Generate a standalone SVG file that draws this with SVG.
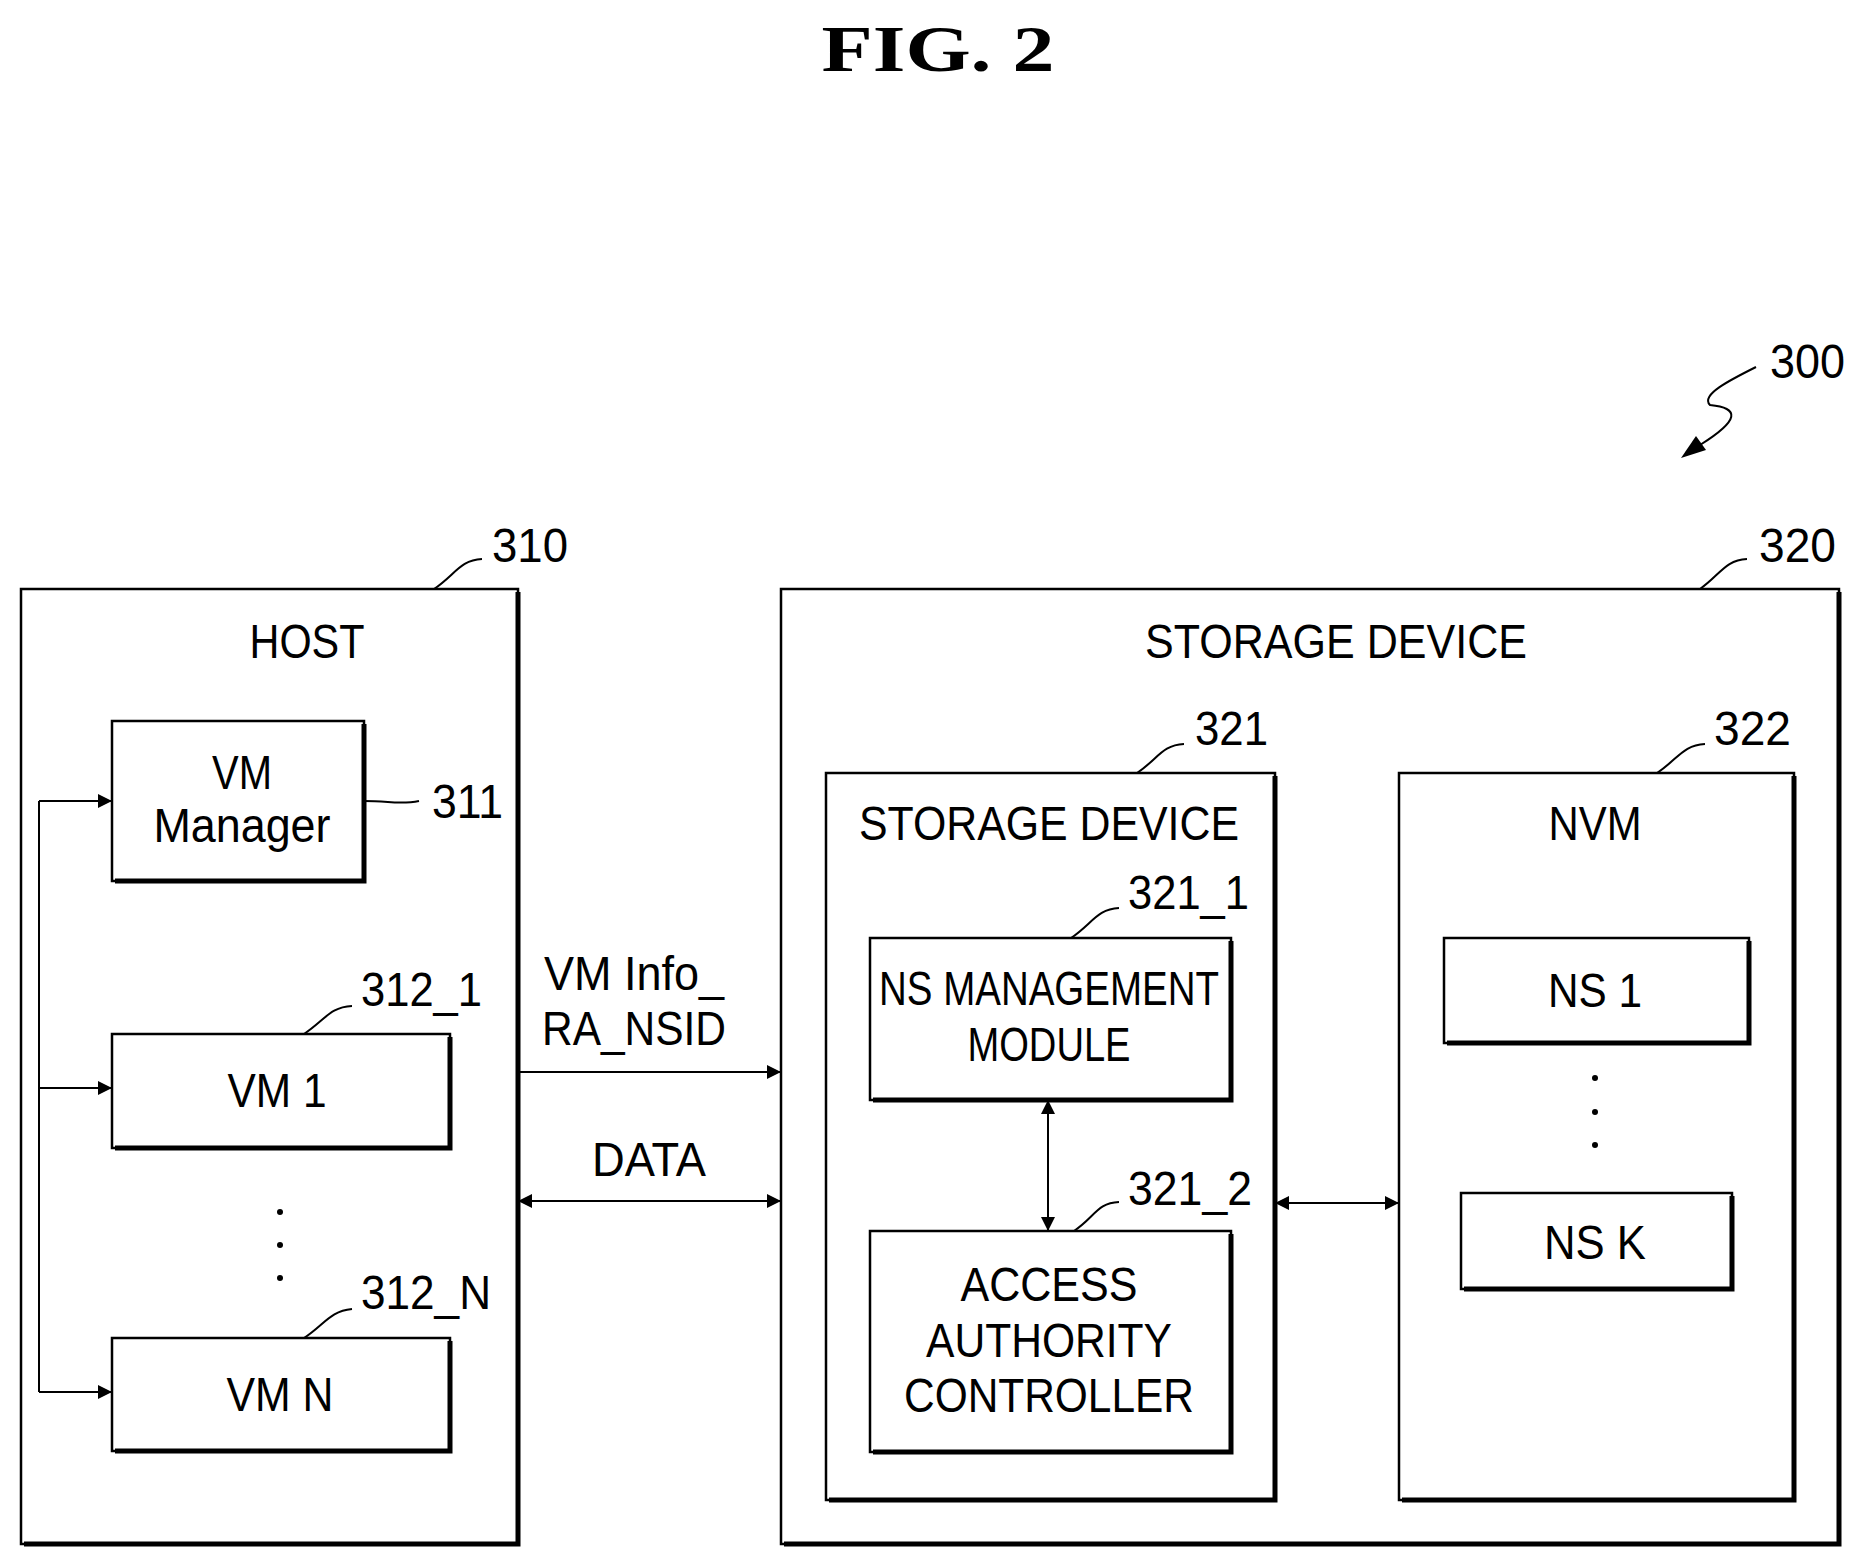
<svg xmlns="http://www.w3.org/2000/svg" width="1857" height="1560" viewBox="0 0 1857 1560">
<style>
.b{fill:none;stroke:#000;stroke-width:2.5}
.sh{fill:none;stroke:#000;stroke-width:5}
.l{fill:none;stroke:#000;stroke-width:2}
text{font-family:"Liberation Sans",Arial,sans-serif;font-size:48px;fill:#000}
.c{text-anchor:middle}
</style>
<defs>
<marker id="a" viewBox="0 0 10 10" refX="10" refY="5" markerWidth="12" markerHeight="12" markerUnits="userSpaceOnUse" orient="auto-start-reverse"><path d="M0,0L10,5L0,10z" fill="#000"/></marker>
<marker id="a2" viewBox="0 0 10 10" refX="10" refY="5" markerWidth="30" markerHeight="14" markerUnits="userSpaceOnUse" orient="auto-start-reverse"><path d="M0,0L10,5L0,10z" fill="#000"/></marker>
</defs>
<text x="938" y="71" class="c" style="font-family:'Liberation Serif',serif;font-weight:bold;font-size:66px" textLength="233" lengthAdjust="spacingAndGlyphs">FIG.  2</text>
<g id="ref300">
<text x="1770" y="378" textLength="75" lengthAdjust="spacingAndGlyphs">300</text>
<path class="l" d="M1756,367 C1730,380 1700,395 1710,405 C1740,408 1740,420 1700,445" />
<path d="M1681,458 L1696,436 L1706,450 z" fill="#000"/>
</g>
<g id="host">
<rect class="b" x="21" y="589" width="497" height="955"/>
<path class="sh" d="M518,592V1544H24"/>
<text x="307" y="658" class="c" textLength="115" lengthAdjust="spacingAndGlyphs">HOST</text>
<text x="492" y="562" textLength="76" lengthAdjust="spacingAndGlyphs">310</text>
<path class="l" d="M434,589 C455,575 460,560 482,559"/>
</g>
<g id="vmmanager">
<rect class="b" x="112" y="721" width="252" height="160"/>
<path class="sh" d="M364,724V881H115"/>
<text x="242" y="789" class="c" textLength="60" lengthAdjust="spacingAndGlyphs">VM</text>
<text x="242" y="842" class="c" textLength="177" lengthAdjust="spacingAndGlyphs">Manager</text>
<text x="432" y="818" textLength="71" lengthAdjust="spacingAndGlyphs">311</text>
<path class="l" d="M364,801 C390,801 400,805 419,801"/>
</g>
<g id="vm1">
<rect class="b" x="112" y="1034" width="338" height="114"/>
<path class="sh" d="M450,1037V1148H115"/>
<text x="277" y="1107" class="c" textLength="99" lengthAdjust="spacingAndGlyphs">VM 1</text>
<text x="361" y="1006" textLength="121" lengthAdjust="spacingAndGlyphs">312_1</text>
<path class="l" d="M304,1034 C325,1020 330,1007 352,1006"/>
</g>
<g id="vmdots"><circle cx="280" cy="1212" r="3"/><circle cx="280" cy="1245" r="3"/><circle cx="280" cy="1278" r="3"/></g>
<g id="vmn">
<rect class="b" x="112" y="1338" width="338" height="113"/>
<path class="sh" d="M450,1341V1451H115"/>
<text x="280" y="1411" class="c" textLength="107" lengthAdjust="spacingAndGlyphs">VM N</text>
<text x="361" y="1309" textLength="130" lengthAdjust="spacingAndGlyphs">312_N</text>
<path class="l" d="M304,1338 C325,1324 330,1311 352,1309"/>
</g>
<g id="storage">
<rect class="b" x="781" y="589" width="1058" height="955"/>
<path class="sh" d="M1839,592V1544H784"/>
<text x="1336" y="658" class="c" textLength="382" lengthAdjust="spacingAndGlyphs">STORAGE DEVICE</text>
<text x="1759" y="562" textLength="77" lengthAdjust="spacingAndGlyphs">320</text>
<path class="l" d="M1700,589 C1720,575 1725,560 1747,559"/>
</g>
<g id="ctrl321">
<rect class="b" x="826" y="773" width="449" height="727"/>
<path class="sh" d="M1275,776V1500H829"/>
<text x="1049" y="840" class="c" textLength="380" lengthAdjust="spacingAndGlyphs">STORAGE DEVICE</text>
<text x="1195" y="745" textLength="73" lengthAdjust="spacingAndGlyphs">321</text>
<path class="l" d="M1137,773 C1158,759 1162,745 1184,744"/>
</g>
<g id="nsmgmt">
<rect class="b" x="870" y="938" width="361" height="162"/>
<path class="sh" d="M1231,941V1100H873"/>
<text x="1049" y="1005" class="c" textLength="340" lengthAdjust="spacingAndGlyphs">NS MANAGEMENT</text>
<text x="1049" y="1061" class="c" textLength="163" lengthAdjust="spacingAndGlyphs">MODULE</text>
<text x="1128" y="909" textLength="121" lengthAdjust="spacingAndGlyphs">321_1</text>
<path class="l" d="M1071,938 C1092,924 1097,909 1119,908"/>
</g>
<g id="access">
<rect class="b" x="870" y="1231" width="361" height="221"/>
<path class="sh" d="M1231,1234V1452H873"/>
<text x="1049" y="1301" class="c" textLength="177" lengthAdjust="spacingAndGlyphs">ACCESS</text>
<text x="1049" y="1357" class="c" textLength="246" lengthAdjust="spacingAndGlyphs">AUTHORITY</text>
<text x="1049" y="1412" class="c" textLength="290" lengthAdjust="spacingAndGlyphs">CONTROLLER</text>
<text x="1128" y="1205" textLength="124" lengthAdjust="spacingAndGlyphs">321_2</text>
<path class="l" d="M1074,1231 C1095,1217 1097,1203 1119,1202"/>
</g>
<g id="nvm">
<rect class="b" x="1399" y="773" width="395" height="727"/>
<path class="sh" d="M1794,776V1500H1402"/>
<text x="1595" y="840" class="c" textLength="93" lengthAdjust="spacingAndGlyphs">NVM</text>
<text x="1714" y="745" textLength="77" lengthAdjust="spacingAndGlyphs">322</text>
<path class="l" d="M1657,773 C1678,759 1683,745 1705,744"/>
</g>
<g id="ns1">
<rect class="b" x="1444" y="938" width="305" height="105"/>
<path class="sh" d="M1749,941V1043H1447"/>
<text x="1595" y="1007" class="c" textLength="94" lengthAdjust="spacingAndGlyphs">NS 1</text>
</g>
<g id="nsdots"><circle cx="1595" cy="1078" r="3"/><circle cx="1595" cy="1112" r="3"/><circle cx="1595" cy="1145" r="3"/></g>
<g id="nsk">
<rect class="b" x="1461" y="1193" width="271" height="96"/>
<path class="sh" d="M1732,1196V1289H1464"/>
<text x="1595" y="1259" class="c" textLength="102" lengthAdjust="spacingAndGlyphs">NS K</text>
</g>
<g id="connectors">
<path class="l" d="M39,801V1392"/>
<path class="l" d="M39,801H112" marker-end="url(#a2)"/>
<path class="l" d="M39,1088H112" marker-end="url(#a2)"/>
<path class="l" d="M39,1392H112" marker-end="url(#a2)"/>
<path class="l" d="M518,1072H781" marker-end="url(#a2)"/>
<path class="l" d="M518,1201H781" marker-start="url(#a2)" marker-end="url(#a2)"/>
<path class="l" d="M1048,1100V1231" marker-start="url(#a2)" marker-end="url(#a2)"/>
<path class="l" d="M1275,1203H1399" marker-start="url(#a2)" marker-end="url(#a2)"/>
<text x="544" y="990" textLength="180" lengthAdjust="spacingAndGlyphs">VM Info_</text>
<text x="542" y="1045" textLength="184" lengthAdjust="spacingAndGlyphs">RA_NSID</text>
<text x="649" y="1176" class="c" textLength="114" lengthAdjust="spacingAndGlyphs">DATA</text>
</g>
</svg>
